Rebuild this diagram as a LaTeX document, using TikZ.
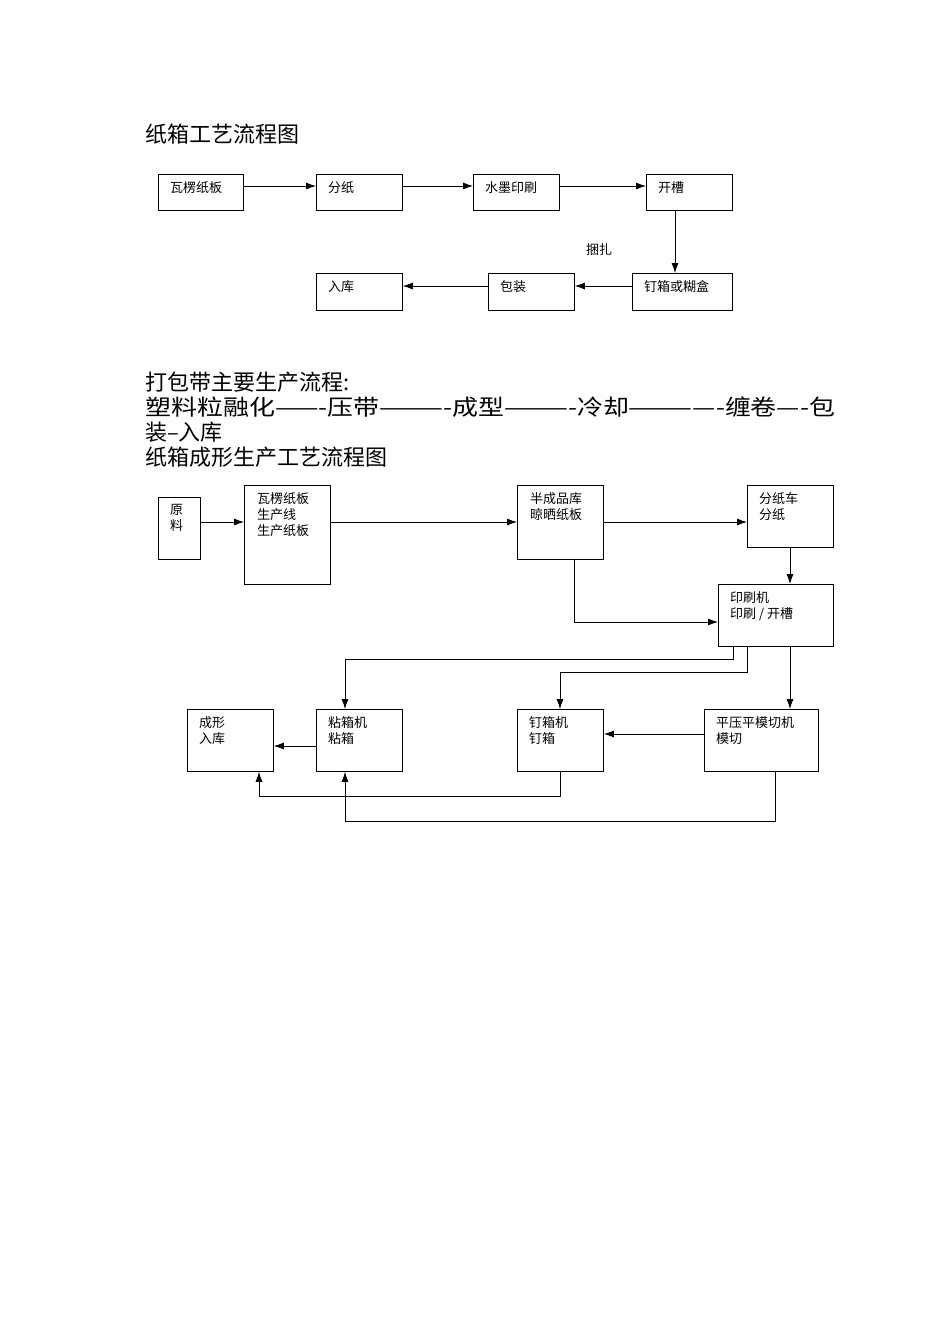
\documentclass[tikz,border=0pt]{standalone}
\usepackage{fontspec}
\usepackage{graphicx}
\setmainfont{Noto Sans CJK SC}
\usetikzlibrary{arrows.meta,calc}
\tikzset{
  box/.style={draw,line width=0.8pt,anchor=north west,inner sep=0pt},
  btxt/.style={anchor=north west,align=left,inner sep=0pt,font=\fontsize{13}{16}\selectfont},
  big/.style={anchor=north west,inner sep=0pt,font=\fontsize{22}{25}\selectfont},
  arr/.style={line width=0.8pt,-{Latex[length=10pt,width=7pt]}},
  ln/.style={line width=0.8pt}
}
\newcommand{\bx}[7]{%
  \node[box,minimum width=#4pt,minimum height=#5pt] (#1) at (#2,#3) {};
  \node[btxt] at ($(#1.north west)+(#6,7)$) {#7};}
\begin{document}
\begin{tikzpicture}[x=1pt,y=-1pt]
\useasboundingbox (0,0) rectangle (950,1344);
\node[big] (t1) at (145,124) {纸箱工艺流程图};
% top diagram
\bx{a1}{158}{174}{85}{36}{12}{瓦楞纸板}
\bx{a2}{316}{174}{86}{36}{12}{分纸}
\bx{a3}{473}{174}{86}{36}{12}{水墨印刷}
\bx{a4}{646}{174}{86}{36}{12}{开槽}
\bx{a5}{632}{273}{100}{37}{12}{钉箱或糊盒}
\bx{a6}{488}{273}{86}{37}{12}{包装}
\bx{a7}{316}{273}{86}{37}{12}{入库}
\node[btxt] (kz) at (586,243) {捆扎};
\draw[arr] ($(a1.north east)+(0,12)$) -- ($(a2.north west)+(0,12)$);
\draw[arr] ($(a2.north east)+(0,12)$) -- ($(a3.north west)+(0,12)$);
\draw[arr] ($(a3.north east)+(0,12)$) -- ($(a4.north west)+(0,12)$);
\draw[arr] ($(a4.south west)+(29,0)$) -- ($(a5.north west)+(43,0)$);
\draw[arr] ($(a5.north west)+(0,13)$) -- ($(a6.north east)+(0,13)$);
\draw[arr] ($(a6.north west)+(0,13)$) -- ($(a7.north east)+(0,13)$);
% text lines
\node[big] (l1) at (145,372) {打包带主要生产流程:};
\node[big] (l2) at (145,397) {\scalebox{1.18}[1]{塑料粒融化——-压带———-成型———-冷却————-缠卷----包}};
\node[big] (l3) at (145,422) {装--入库};
\node[big] (l4) at (145,447) {纸箱成形生产工艺流程图};
% lower diagram
\bx{b1}{158}{497}{42}{62}{12}{原\\料}
\bx{b2}{244}{485}{86}{99}{13}{瓦楞纸板\\生产线\\生产纸板}
\bx{b3}{517}{485}{86}{74}{13}{半成品库\\晾晒纸板}
\bx{b4}{747}{485}{86}{62}{12}{分纸车\\分纸}
\bx{b5}{718}{584}{115}{62}{12}{印刷机\\印刷 / 开槽}
\bx{b6}{316}{709}{86}{62}{12}{粘箱机\\粘箱}
\bx{b7}{187}{709}{86}{62}{12}{成形\\入库}
\bx{b8}{517}{709}{86}{62}{12}{钉箱机\\钉箱}
\bx{b9}{704}{709}{114}{62}{12}{平压平模切机\\模切}
\draw[arr] (b1.east |- 0,522) -- (b2.west |- 0,522);
\draw[arr] (b2.east |- 0,522) -- (b3.west |- 0,522);
\draw[arr] (b3.east |- 0,522) -- (b4.west |- 0,522);
\draw[arr] (790,547) -- (b5.north -| 790,0);
\draw[arr] (b3.south -| 574,0) |- (b5.west |- 0,622);
\draw[arr] (b5.south -| 733,0) |- (345,659) -- (b6.north -| 345,0);
\draw[arr] (b5.south -| 747,0) |- (560,672) -- (b8.north -| 560,0);
\draw[arr] (b5.south -| 790,0) -- (b9.north -| 790,0);
\draw[arr] (b9.west |- 0,734) -- (b8.east |- 0,734);
\draw[arr] (b6.west |- 0,746) -- (b7.east |- 0,746);
\draw[arr] (b8.south -| 560,0) |- (259,796) -- (b7.south -| 259,0);
\draw[arr] (b9.south -| 775,0) |- (345,821) -- (b6.south -| 345,0);
\end{tikzpicture}
\end{document}
